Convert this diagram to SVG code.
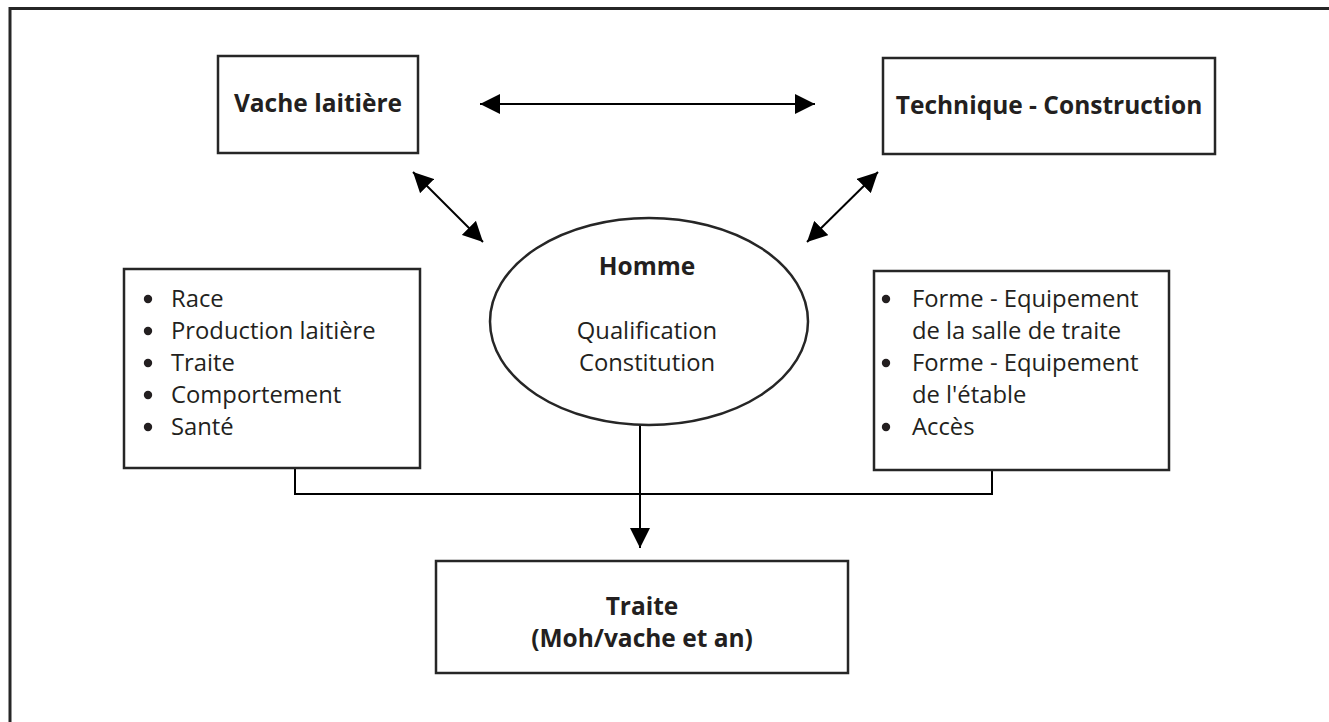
<svg xmlns="http://www.w3.org/2000/svg" width="1329" height="722" viewBox="0 0 1329 722">
<defs>
<style>
.box{fill:#fff;stroke:#262626;stroke-width:2.5}
.frame{fill:none;stroke:#262626;stroke-width:3}
.con{fill:none;stroke:#000;stroke-width:2}
.b{font-family:"Open Sans","Liberation Sans",sans-serif;font-weight:bold;font-size:24.5px;fill:#231f20;text-anchor:middle}
.r{font-family:"Open Sans","Liberation Sans",sans-serif;font-size:23.8px;fill:#231f20}
.rc{font-family:"Open Sans","Liberation Sans",sans-serif;font-size:23.8px;fill:#231f20;text-anchor:middle}
</style>
<marker id="ah" viewBox="0 0 20 20" refX="20" refY="10" markerWidth="20" markerHeight="20" markerUnits="userSpaceOnUse" orient="auto-start-reverse">
<path d="M0,0 L20,10 L0,20 z" fill="#000"/>
</marker>
</defs>
<rect width="1329" height="722" fill="#fff"/>
<path class="frame" d="M10,740 L10,8.5 L1340,8.5"/>
<g id="connectors">
<line class="con" x1="480" y1="104" x2="815" y2="104" marker-start="url(#ah)" marker-end="url(#ah)"/>
<line class="con" x1="413" y1="172" x2="483" y2="242" marker-start="url(#ah)" marker-end="url(#ah)"/>
<line class="con" x1="878" y1="172" x2="807" y2="242" marker-start="url(#ah)" marker-end="url(#ah)"/>
<polyline class="con" points="295,468 295,494 992,494 992,470"/>
<line class="con" x1="640" y1="425" x2="640" y2="548" marker-end="url(#ah)"/>
</g>
<g id="vache">
<rect class="box" x="218" y="56" width="200" height="97"/>
<text class="b" x="318" y="112">Vache laitière</text>
</g>
<g id="technique">
<rect class="box" x="883" y="58" width="332" height="96"/>
<text class="b" x="1049" y="114">Technique - Construction</text>
</g>
<g id="homme">
<ellipse class="box" cx="649" cy="321.5" rx="159" ry="103.5"/>
<text class="b" x="647" y="275">Homme</text>
<text class="rc" x="647" y="339">Qualification</text>
<text class="rc" x="647" y="371">Constitution</text>
</g>
<g id="vache-details">
<rect class="box" x="124" y="269" width="296" height="199"/>
<g fill="#231f20">
<circle cx="148" cy="299" r="4.2"/>
<circle cx="148" cy="331" r="4.2"/>
<circle cx="148" cy="363" r="4.2"/>
<circle cx="148" cy="395" r="4.2"/>
<circle cx="148" cy="427" r="4.2"/>
</g>
<text class="r" x="171" y="307">Race</text>
<text class="r" x="171" y="339">Production laitière</text>
<text class="r" x="171" y="371">Traite</text>
<text class="r" x="171" y="403">Comportement</text>
<text class="r" x="171" y="435">Santé</text>
</g>
<g id="technique-details">
<rect class="box" x="874" y="271" width="295" height="199"/>
<g fill="#231f20">
<circle cx="886" cy="299" r="4.2"/>
<circle cx="886" cy="363" r="4.2"/>
<circle cx="886" cy="427" r="4.2"/>
</g>
<text class="r" x="912" y="307">Forme - Equipement</text>
<text class="r" x="912" y="339">de la salle de traite</text>
<text class="r" x="912" y="371">Forme - Equipement</text>
<text class="r" x="912" y="403">de l'étable</text>
<text class="r" x="912" y="435">Accès</text>
</g>
<g id="traite">
<rect class="box" x="436" y="561" width="412" height="112"/>
<text class="b" x="642" y="615">Traite</text>
<text class="b" x="642" y="647">(Moh/vache et an)</text>
</g>
</svg>
